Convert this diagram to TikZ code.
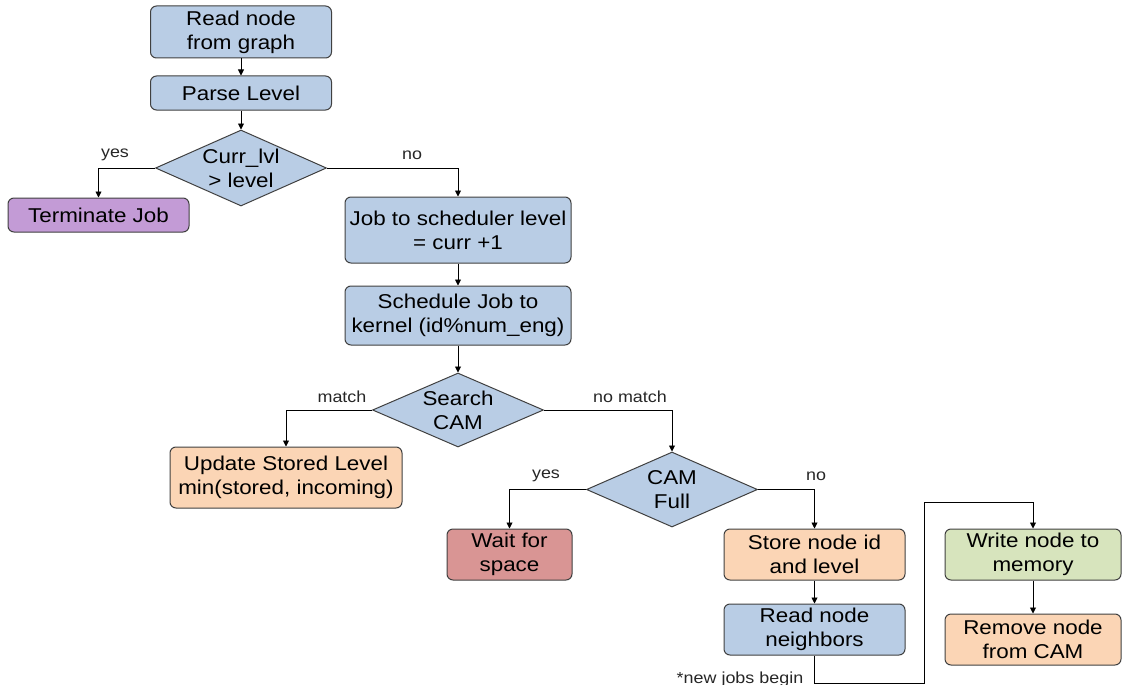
\documentclass[tikz,border=0pt]{standalone}
\usepackage{fontspec}
\setmainfont[FakeStretch=1.12]{Liberation Sans}
\usetikzlibrary{shapes.geometric,arrows.meta}
\definecolor{cblue}{HTML}{B9CDE5}
\definecolor{corange}{HTML}{FBD5B5}
\definecolor{cpurple}{HTML}{C39BD6}
\definecolor{cred}{HTML}{D99594}
\definecolor{cgreen}{HTML}{D7E4BD}
\definecolor{cline}{HTML}{404040}
\tikzset{
  box/.style={draw=cline, line width=1pt, rounded corners=6pt, inner sep=0pt,
    align=center, font=\fontsize{20}{24}\selectfont, text=black},
  dia/.style={draw=cline, line width=1pt, shape=diamond, inner sep=0pt,
    fill=cblue, minimum width=171pt, minimum height=76pt},
  diatext/.style={align=center, font=\fontsize{20}{24}\selectfont},
  lab/.style={font=\fontsize{16}{18}\selectfont, text=black!85},
  arr/.style={draw=black, line width=0.9pt, -{Triangle[length=6pt,width=6pt]}},
  conn/.style={draw=black, line width=0.9pt}
}
\begin{document}
\begin{tikzpicture}[x=1pt,y=-1pt]
\useasboundingbox (0,0) rectangle (1122,685);
% boxes
\node[box, fill=cblue, minimum width=181pt, minimum height=52pt] (read) at (241,32) {Read node\\from graph};
\node[box, fill=cblue, minimum width=181pt, minimum height=34pt] (parse) at (241,93) {Parse Level};
\node[dia] (curr) at (241,168) {};
\node[diatext] at (curr.center) {Curr\_lvl\\> level};
\node[box, fill=cpurple, minimum width=181pt, minimum height=34pt] (term) at (98.5,215) {Terminate Job};
\node[box, fill=cblue, minimum width=226pt, minimum height=66pt] (jobsched) at (458,230) {Job to scheduler level\\= curr +1};
\node[box, fill=cblue, minimum width=226pt, minimum height=59pt] (sched) at (458,315.5) {Schedule Job to\\kernel (id\%num\_eng)};
\node[dia, minimum height=74pt] (search) at (458,410) {};
\node[diatext] at (search.center) {Search\\CAM};
\node[box, fill=corange, minimum width=232pt, minimum height=61pt] (update) at (286,477.5) {Update Stored Level\\min(stored, incoming)};
\node[dia, minimum height=75pt] (full) at (672,489.5) {};
\node[diatext] at (full.center) {CAM\\Full};
\node[box, fill=cred, minimum width=125pt, minimum height=51pt] (wait) at (509.5,554.5) {Wait for\\space};
\node[box, fill=corange, minimum width=181pt, minimum height=51pt] (store) at (814.5,554.5) {Store node id\\and level};
\node[box, fill=cblue, minimum width=181pt, minimum height=51pt] (neigh) at (814.5,629.5) {Read node\\neighbors};
\node[box, fill=cgreen, minimum width=176pt, minimum height=51pt] (write) at (1033,554.5) {Write node to\\memory};
\node[box, fill=corange, minimum width=176pt, minimum height=51pt] (remove) at (1033,639.5) {Remove node\\from CAM};
% connectors
\draw[arr] (read.south) -- (parse.north);
\draw[arr] (parse.south) -- (curr.north);
\draw[arr] (curr.west) -| (term.north);
\node[lab] (lyes1) at (115,155) {yes};
\draw[arr] (curr.east) -| (jobsched.north);
\node[lab] (lno1) at (412,155) {no};
\draw[arr] (jobsched.south) -- (sched.north);
\draw[arr] (sched.south) -- (search.north);
\draw[arr] (search.west) -| (update.north);
\node[lab] (lmatch) at (342,397) {match};
\draw[arr] (search.east) -| (full.north);
\node[lab] (lnomatch) at (630,397) {no match};
\draw[arr] (full.west) -| (wait.north);
\node[lab] (lyes2) at (546,476) {yes};
\draw[arr] (full.east) -| (store.north);
\node[lab] (lno2) at (816,476) {no};
\draw[arr] (store.south) -- (neigh.north);
\coordinate (c1) at (814.5,683);
\coordinate (c2) at (924,683);
\coordinate (c3) at (924,502);
\coordinate (c4) at (1033,502);
\draw[arr] (neigh.south) -- (c1) -- (c2) -- (c3) -- (c4) -- (write.north);
\draw[arr] (write.south) -- (remove.north);
\node[lab, anchor=north] (newjobs) at (740,668) {*new jobs begin};
\end{tikzpicture}
\end{document}
